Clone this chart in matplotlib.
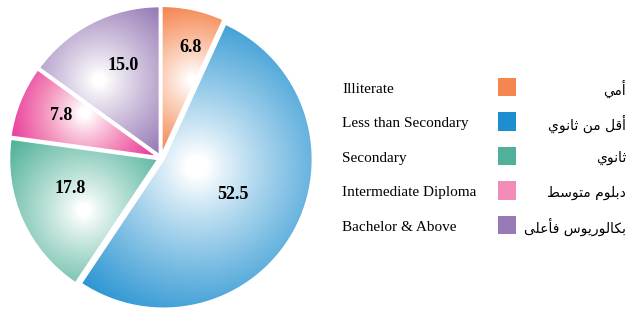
import numpy as np
import matplotlib

matplotlib.use("Agg")
import matplotlib.pyplot as plt
from matplotlib.colors import LinearSegmentedColormap

# data
values = [6.8, 52.5, 17.8, 7.8, 15.0]
labels_en = ["Illiterate", "Less than Secondary", "Secondary",
             "Intermediate Diploma", "Bachelor & Above"]
labels_ar = ["أمي", "أقل من ثانوي", "ثانوي", "دبلوم متوسط", "بكالوريوس فأعلى"]
value_text = ["6.8", "52.5", "17.8", "7.8", "15.0"]

colors = ["#F5864F", "#1D8ECF", "#4FB199", "#F38BB9", "#987BB6"]
edge_colors = ["#F5864F", "#1D8ECF", "#4FB199", "#E8309A", "#987BB6"]

# label placement (fraction of radius, degrees off the wedge middle)
label_dist = [0.75, 0.52, 0.62, 0.71, 0.65]
label_turn = [-3, 2, -6, -1, -5]

# --- minimal arabic shaping (matplotlib has no complex text layout) ---
AR_BASE = {
    "ا": 0xFE8D, "أ": 0xFE83, "ب": 0xFE8F, "ت": 0xFE95, "ث": 0xFE99,
    "د": 0xFEA9, "ر": 0xFEAD, "س": 0xFEB1, "ط": 0xFEC1, "ع": 0xFEC9,
    "ف": 0xFED1, "ق": 0xFED5, "ك": 0xFED9, "ل": 0xFEDD, "م": 0xFEE1,
    "ن": 0xFEE5, "و": 0xFEED, "ى": 0xFEEF, "ي": 0xFEF1,
}
AR_DUAL = set("بتثسطعفقكلمني")


def shape_ar(s):
    out = []
    for i, c in enumerate(s):
        if c not in AR_BASE:
            out.append(c)
            continue
        prev = s[i - 1] if i > 0 else ""
        nxt = s[i + 1] if i + 1 < len(s) else ""
        jp = prev in AR_DUAL
        jn = c in AR_DUAL and nxt in AR_BASE
        idx = 3 if (jp and jn) else 1 if jp else 2 if jn else 0
        out.append(chr(AR_BASE[c] + idx))
    return "".join(reversed(out))


W, H = 629, 309
fig = plt.figure(figsize=(W / 100, H / 100), dpi=100)

ax = fig.add_axes([3 / W, -7 / H, 316 / W, 316 / H])
wedges, _ = ax.pie(values, startangle=90, counterclock=False,
                   explode=[0.02] * len(values), colors=colors,
                   wedgeprops=dict(linewidth=0))

n = 300
g = np.linspace(-1, 1, n)

for i, w in enumerate(wedges):
    ext = w.get_path().get_extents()
    hw, hh = ext.width / 2, ext.height / 2
    X, Y = np.meshgrid(g * hw, g * hh)
    D = np.sqrt(X ** 2 + Y ** 2) / np.hypot(hw, hh)
    V = np.clip((D - 0.06) / 0.9, 0, 1) ** 0.88
    if colors[i] != edge_colors[i]:
        stops = [(0, "white"), (0.55, colors[i]), (1, edge_colors[i])]
    else:
        stops = [(0, "white"), (1, edge_colors[i])]
    cmap = LinearSegmentedColormap.from_list(f"grad{i}", stops)
    im = ax.imshow(V, extent=(ext.x0, ext.x1, ext.y0, ext.y1), origin="lower",
                   cmap=cmap, vmin=0, vmax=1, interpolation="bilinear", zorder=2)
    im.set_clip_path(w)
    # white borders between slices, drawn over the gradients
    w.set_facecolor("none")
    w.set_edgecolor("white")
    w.set_linewidth(1.5)
    w.set_zorder(2.5)

    mid = np.deg2rad((w.theta1 + w.theta2) / 2 + label_turn[i])
    cx, cy = w.center
    ax.text(cx + label_dist[i] * np.cos(mid), cy + label_dist[i] * np.sin(mid),
            value_text[i], ha="center", va="center", zorder=3,
            family="Liberation Serif", weight="bold", fontsize=13)

ax.set_xlim(-1.06, 1.06)
ax.set_ylim(-1.06, 1.06)
ax.set_aspect("equal")
ax.axis("off")

# legend: english | swatch | arabic
lax = fig.add_axes([330 / W, (H - 242.25) / H, 299 / W, 172.5 / H])
lax.set_xlim(0, 1)
lax.set_ylim(len(values) - 0.5, -0.5)
lax.axis("off")
rows = np.arange(len(values))
lax.scatter(np.full(len(values), 0.592), rows, marker="s", s=168,
            c=colors, linewidths=0)
for i in rows:
    lax.text(0.04, i + 0.06, labels_en[i], ha="left", va="center",
             family="Liberation Serif", fontsize=11)
    lax.text(0.99, i + 0.06, shape_ar(labels_ar[i]), ha="right", va="center",
             family="DejaVu Sans", fontsize=10)

fig.savefig("out.png", dpi=100)
